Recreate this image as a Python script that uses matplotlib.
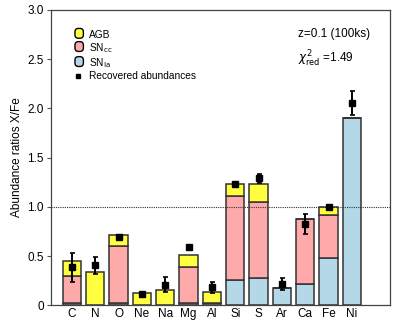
import numpy as np
import matplotlib
matplotlib.use("Agg")
from matplotlib import pyplot as plt
from matplotlib.patches import FancyBboxPatch
from matplotlib.lines import Line2D
from matplotlib.legend_handler import HandlerPatch

plt.rcParams['font.family'] = ['Liberation Sans', 'DejaVu Sans']

elements = ['C', 'N', 'O', 'Ne', 'Na', 'Mg', 'Al', 'Si', 'S', 'Ar', 'Ca', 'Fe', 'Ni']
sn_ia = [0.02, 0.0, 0.02, 0.0, 0.0, 0.025, 0.02, 0.254, 0.275, 0.18, 0.217, 0.484, 1.898]
sn_cc = [0.274, 0.0, 0.58, 0.0, 0.0, 0.36, 0.0, 0.855, 0.773, 0.0, 0.658, 0.434, 0.0]
agb = [0.152, 0.334, 0.115, 0.128, 0.155, 0.121, 0.12, 0.121, 0.189, 0.0, 0.0, 0.082, 0.0]
recovered = [0.385, 0.405, 0.69, 0.118, 0.21, 0.59, 0.185, 1.23, 1.29, 0.217, 0.827, 1.0, 2.055]
rec_err = [0.148, 0.087, 0.02, 0.012, 0.075, 0.025, 0.056, 0.02, 0.047, 0.063, 0.105, 0.012, 0.124]

c_agb = '#ffff40'
c_cc = '#ffaaaa'
c_ia = '#b4d8e8'
edge = '#333333'

fig = plt.figure(figsize=(4.07, 3.26), dpi=100)
ax = fig.add_axes([0.125, 0.0635, 0.833, 0.906])

x = np.arange(len(elements))
w = 0.78
ia = np.array(sn_ia)
cc = np.array(sn_cc)
ag = np.array(agb)
ax.bar(x, ia, w, color=c_ia, edgecolor=edge, linewidth=1.1, zorder=2)
ax.bar(x, cc, w, bottom=ia, color=c_cc, edgecolor=edge, linewidth=1.1, zorder=2)
ax.bar(x, ag, w, bottom=ia + cc, color=c_agb, edgecolor=edge, linewidth=1.1, zorder=2)

ax.errorbar(x, recovered, yerr=rec_err, fmt='s', color='black', ms=4.3,
            elinewidth=1.4, capsize=1.8, capthick=1.2, zorder=4)

ax.axhline(1.0, color='#333333', linestyle=(0, (1, 1)), linewidth=0.8, zorder=3)

ax.set_xlim(-0.9, 13.63)
ax.set_ylim(0, 3.0)
ax.set_xticks(x)
ax.set_xticklabels(elements, fontsize=8.5)
ax.tick_params(axis='x', length=0, pad=2)
ax.set_yticks([0, 0.5, 1.0, 1.5, 2.0, 2.5, 3.0])
ax.set_yticklabels(['0', '0.5', '1.0', '1.5', '2.0', '2.5', '3.0'], fontsize=8.5)
ax.tick_params(axis='y', length=3, width=0.8, direction='out', pad=2, color='#555555')
ax.set_ylabel('Abundance ratios X/Fe', fontsize=8.5, labelpad=3)
for s in ax.spines.values():
    s.set_color('#444444')
    s.set_linewidth(0.9)


class RoundBox(HandlerPatch):
    def create_artists(self, legend, orig, xd, yd, width, height, fontsize, trans):
        p = FancyBboxPatch((xd + 1, yd - 0.5), height, height + 1,
                           boxstyle='round,pad=0,rounding_size=2.5',
                           facecolor=orig.get_facecolor(), edgecolor='black',
                           linewidth=1.0, transform=trans)
        return [p]


h_agb = plt.Rectangle((0, 0), 1, 1, facecolor=c_agb)
h_cc = plt.Rectangle((0, 0), 1, 1, facecolor=c_cc)
h_ia = plt.Rectangle((0, 0), 1, 1, facecolor=c_ia)
h_rec = Line2D([], [], marker='s', color='black', linestyle='none', ms=3.5)
leg = ax.legend([h_agb, h_cc, h_ia, h_rec],
                ['AGB', 'SN$_{\\rm cc}$', 'SN$_{\\rm Ia}$', 'Recovered abundances'],
                handler_map={plt.Rectangle: RoundBox()},
                loc='upper left', bbox_to_anchor=(0.055, 0.945), frameon=False,
                fontsize=7.3, handlelength=0.9, handleheight=0.9,
                handletextpad=0.6, labelspacing=0.12, borderaxespad=0)

ax.text(0.73, 0.91, 'z=0.1 (100ks)', transform=ax.transAxes, fontsize=8.5)
ax.text(0.73, 0.82, '$\\chi^2_{\\rm red}$ =1.49', transform=ax.transAxes, fontsize=8.5)

fig.savefig('out.png', dpi=100)
